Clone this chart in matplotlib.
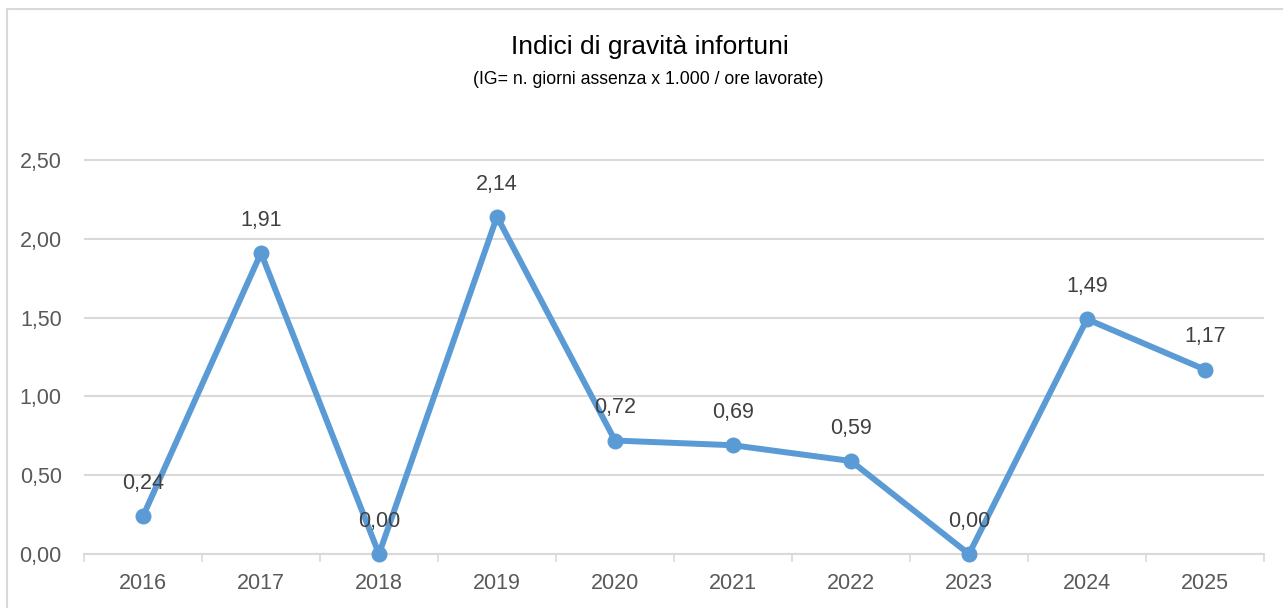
"""Indici di gravita' infortuni - line chart recreation"""
import matplotlib
matplotlib.use('Agg')
import matplotlib.pyplot as plt
from matplotlib.patches import Rectangle
from matplotlib.ticker import FuncFormatter, FixedLocator

# Data
years = ['2016', '2017', '2018', '2019', '2020', '2021', '2022', '2023', '2024', '2025']
ig_values = [0.24, 1.91, 0.00, 2.14, 0.72, 0.69, 0.59, 0.00, 1.49, 1.17]
y_ticks = [0.0, 0.5, 1.0, 1.5, 2.0, 2.5]

line_color = '#5B9BD5'
text_color = '#595959'
grid_color = '#D9D9D9'

plt.rcParams['font.family'] = ['Liberation Sans', 'DejaVu Sans']

fig = plt.figure(figsize=(12.83, 6.08), dpi=100)
ax = fig.add_axes([84 / 1283, 1 - 554 / 608, (1264 - 84) / 1283, (554 - 120.6) / 608])

# outer chart border (cropped on right and bottom)
fig.patches.append(Rectangle((7 / 1283, -0.1), 1.2, 1 - 9 / 608 + 0.1,
                             transform=fig.transFigure, fill=False,
                             edgecolor='#D9D9D9', linewidth=1.5))

x = list(range(len(years)))
ax.plot(x, ig_values, color=line_color, linewidth=4.3, marker='o',
        markersize=10.5, solid_capstyle='round', zorder=3, clip_on=False)

for xi, v in zip(x, ig_values):
    ax.annotate(f'{v:.2f}'.replace('.', ','), (xi, v), xytext=(0, 16),
                textcoords='offset points', ha='center', va='bottom',
                fontsize=15.5, color='#404040', zorder=4)

ax.set_xlim(-0.5, len(years) - 0.5)
ax.set_ylim(0, 2.75)
ax.yaxis.set_major_locator(FixedLocator(y_ticks))
ax.yaxis.set_major_formatter(FuncFormatter(lambda v, p: f'{v:.2f}'.replace('.', ',')))
ax.grid(axis='y', color=grid_color, linewidth=1.5)
ax.set_axisbelow(True)

ax.set_xticks(x)
ax.set_xticklabels(years)
ax.set_xticks([i - 0.5 for i in range(len(years) + 1)], minor=True)
ax.tick_params(axis='x', which='major', length=0, pad=14, labelsize=15.5, labelcolor=text_color)
ax.tick_params(axis='x', which='minor', length=6, width=1.2, color=grid_color)
ax.tick_params(axis='y', length=0, pad=16, labelsize=15.5, labelcolor=text_color)

for side in ['top', 'right', 'left']:
    ax.spines[side].set_visible(False)
ax.spines['bottom'].set_color(grid_color)
ax.spines['bottom'].set_linewidth(1.5)

fig.text(650 / 1283, 1 - 47 / 608, 'Indici di gravità infortuni', ha='center',
         va='center', fontsize=19, color='black')
fig.text(648 / 1283, 1 - 79 / 608, '(IG= n. giorni assenza x 1.000 / ore lavorate)',
         ha='center', va='center', fontsize=12.7, color='black')

fig.savefig('out.png', dpi=100)
